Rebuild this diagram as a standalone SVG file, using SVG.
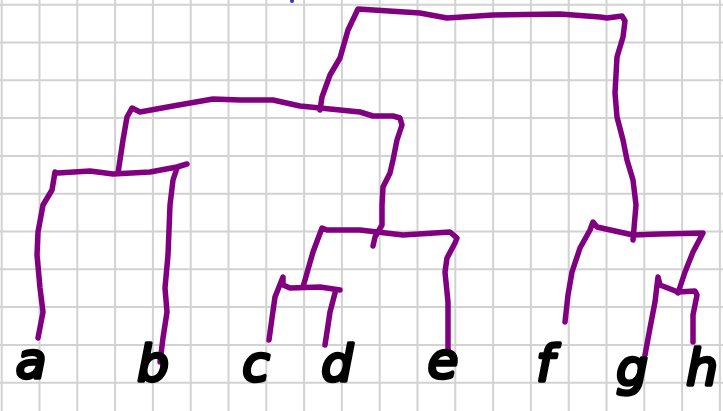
<svg xmlns="http://www.w3.org/2000/svg" width="723" height="411" viewBox="0 0 723 411">
<style>
.grid{fill:none;stroke:#d2d2d2;stroke-width:2}
.br{fill:none;stroke:#800080;stroke-width:5.5;stroke-linecap:round;stroke-linejoin:round}
.lbl{font-family:"DejaVu Sans",sans-serif;font-style:italic;font-weight:normal;font-size:50px;fill:#000;stroke:#000;stroke-width:3.5;stroke-linejoin:round;text-anchor:middle}
</style>
<rect width="723" height="411" fill="#fff"/>
<path class="grid" d="M1.7,0V411M39.5,0V411M77.3,0V411M115.1,0V411M152.9,0V411M190.7,0V411M228.5,0V411M266.3,0V411M304.1,0V411M341.9,0V411M379.7,0V411M417.5,0V411M455.3,0V411M493.1,0V411M530.9,0V411M568.7,0V411M606.5,0V411M644.3,0V411M682.1,0V411M719.9,0V411M0,4.7H723M0,42.5H723M0,80.3H723M0,118.1H723M0,155.9H723M0,193.7H723M0,231.5H723M0,269.3H723M0,307.1H723M0,344.9H723M0,382.7H723M0,420.5H723"/>
<circle cx="292" cy="1" r="2" fill="#3a3aa8"/>
<g id="connectors">
<path class="br" d="M320,110 L322,97 L330,75 L340,58 L348,30 L358,9 L420,13 L447,18 L493,15 L560,14 L600,17 L607,18 L622,16 L625,21 L623,37 L617,57 L615,93 L617,117 L623,140 L627,160 L633,180 L636,205 L633,240"/>
<path class="br" d="M118,173 L123,140 L127,117 L132,108 L140,112 L173,106 L213,99 L240,100 L273,100 L300,106 L320,108 L360,112 L373,116 L393,116 L400,118 L402,125 L397,140 L393,160 L390,173 L383,187 L382,205 L382,225 L375,237 L373,246"/>
<path class="br" d="M38,338 L43,312 L40,288 L37,255 L38,232 L43,205 L52,190 L55,172 L58,173 L90,171 L113,174 L150,172 L177,167 L187,164"/>
<path class="br" d="M177,168 L173,180 L170,205 L168,255 L165,288 L167,312 L163,338 L160,362"/>
<path class="br" d="M303,287 L313,252 L322,228 L327,230 L360,230 L403,235 L450,232 L457,238 L455,243 L447,258 L445,272 L448,302 L448,322 L448,352"/>
<path class="br" d="M269,340 L272,318 L275,297 L283,277 L283,285 L290,288 L320,287 L340,290"/>
<path class="br" d="M335,293 L330,312 L327,332 L325,345"/>
<path class="br" d="M565,322 L568,295 L572,272 L580,248 L590,230 L593,222 L597,227 L633,235 L660,234 L703,233 L693,252 L685,272 L680,287 L678,293"/>
<path class="br" d="M645,355 L650,328 L655,302 L658,277 L660,285 L678,292 L695,291 L697,295 L693,315 L693,342"/>
</g>
<g id="leaf-a"><text class="lbl" x="31" y="378">a</text></g>
<g id="leaf-b"><text class="lbl" x="153" y="381">b</text></g>
<g id="leaf-c"><text class="lbl" x="256" y="381">c</text></g>
<g id="leaf-d"><text class="lbl" x="337" y="381">d</text></g>
<g id="leaf-e"><text class="lbl" x="443" y="378">e</text></g>
<g id="leaf-f"><text class="lbl" x="545" y="381">f</text></g>
<g id="leaf-g"><text class="lbl" x="632" y="385">g</text></g>
<g id="leaf-h"><text class="lbl" x="702" y="385">h</text></g>
</svg>
